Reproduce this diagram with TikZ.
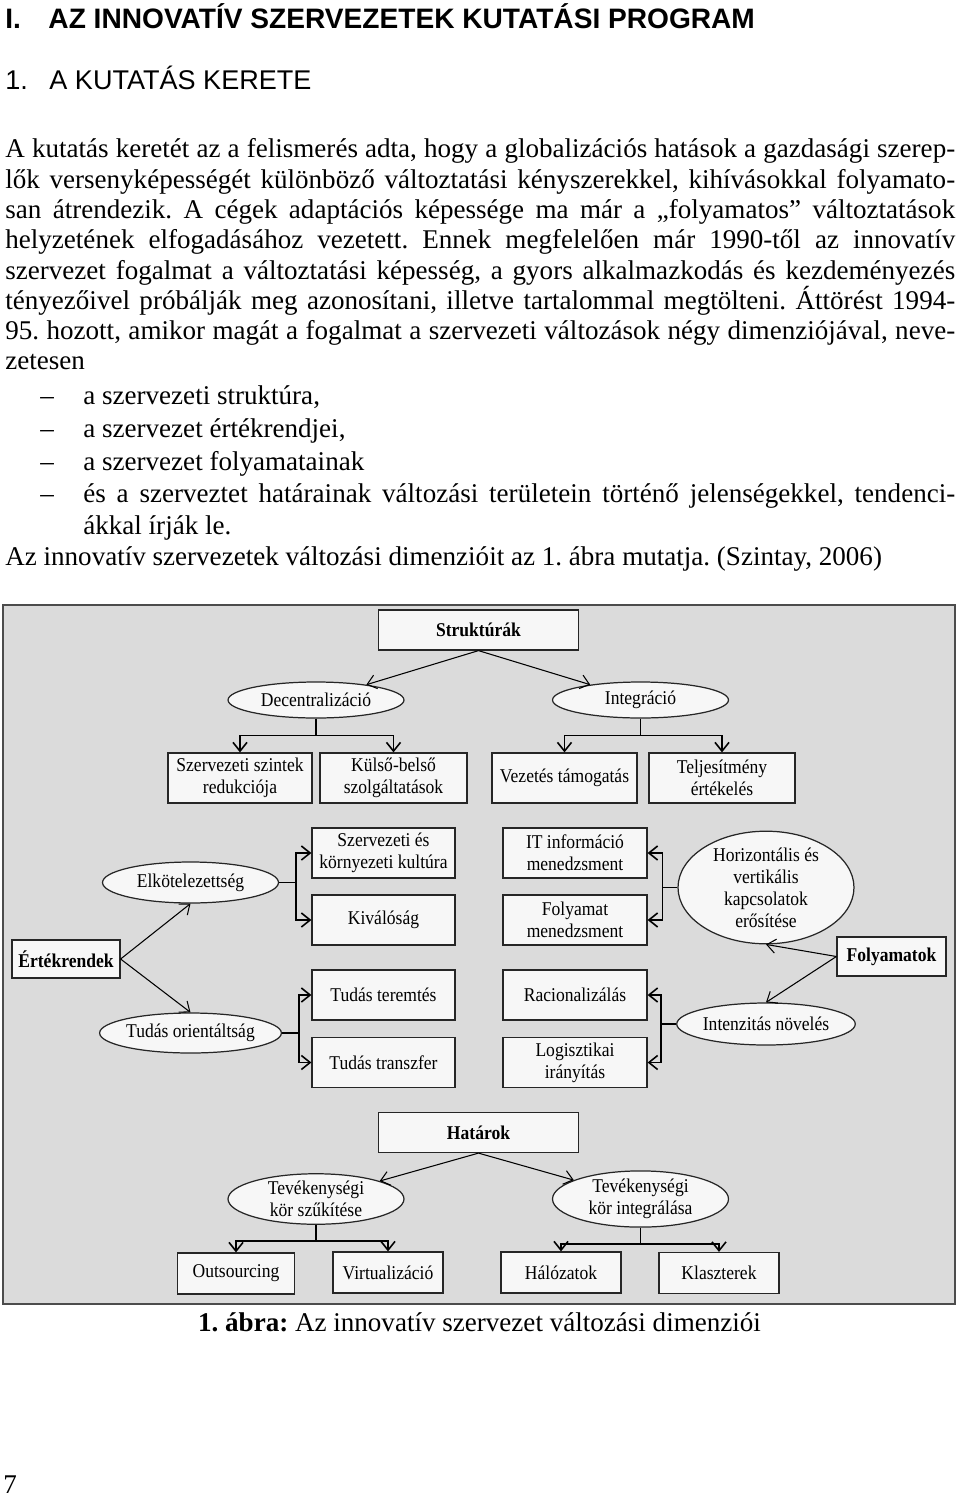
\documentclass[tikz,border=0pt]{standalone}
\usepackage{fontspec}
\setmainfont{Liberation Serif}
\newfontfamily\headfont{Liberation Sans}
\newfontfamily\dgfam[FakeStretch=0.9]{Liberation Serif}
\usepackage{tikz}
\usetikzlibrary{arrows.meta, positioning, shapes.geometric, calc}
\usepackage{xcolor}
\frenchspacing
\newcommand\dgfont{\dgfam\fontsize{11.1}{12.5}\selectfont}
\newcommand\txtfont{\fontsize{15.4}{17.5}\selectfont}
\tikzset{
  frame/.style={draw=black!70, fill=black!14, line width=0.8pt},
  dimbox/.style={rectangle, draw=black!85, fill=black!3, line width=0.7pt,
                 inner sep=0pt, minimum width=4cm, minimum height=0.8cm, font=\dgfont\bfseries},
  itembox/.style={rectangle, draw=black!85, fill=black!3, line width=0.7pt, align=center,
                 inner sep=0pt, minimum width=2.9cm, minimum height=1cm, font=\dgfont},
  oval/.style={ellipse, draw=black!85, fill=black!3, line width=0.7pt, align=center,
                 inner sep=0pt, minimum width=3.52cm, minimum height=0.8cm, font=\dgfont},
  arr/.style={line width=0.6pt, -{Straight Barb[length=5pt, width=8pt]}},
  brk/.style={line width=0.9pt, -{Straight Barb[length=5pt, width=8pt]}},
  txtline/.style={anchor=base west, inner sep=0pt, font=\txtfont},
}
\begin{document}
\begin{tikzpicture}[x=0.02cm, y=-0.02cm]
    \useasboundingbox (0,0) rectangle (960,1497);
    % Headings
    \node[anchor=base west, inner sep=0pt, font=\headfont\fontsize{16}{18}\selectfont\bfseries] (h1) at (5,28.5)
      {I.\hspace{0.55cm}AZ INNOVATÍV SZERVEZETEK KUTATÁSI PROGRAM};
    \node[anchor=base west, inner sep=0pt, font=\headfont\fontsize{15.4}{18}\selectfont] (h2) at (5,90)
      {1.\hspace{0.43cm}A KUTATÁS KERETE};
    % Text
    \node[txtline] (t1) at (5,157) {\makebox[19cm][s]{A kutatás keretét az a felismerés adta, hogy a globalizációs hatások a gazdasági szerep-}};
    \node[txtline] (t2) at (5,188) {\makebox[19cm][s]{lők versenyképességét különböző változtatási kényszerekkel, kihívásokkal folyamato-}};
    \node[txtline] (t3) at (5,218) {\makebox[19cm][s]{san átrendezik. A cégek adaptációs képessége ma már a „folyamatos” változtatások}};
    \node[txtline] (t4) at (5,248) {\makebox[19cm][s]{helyzetének elfogadásához vezetett. Ennek megfelelően már 1990-től az innovatív}};
    \node[txtline] (t5) at (5,279) {\makebox[19cm][s]{szervezet fogalmat a változtatási képesség, a gyors alkalmazkodás és kezdeményezés}};
    \node[txtline] (t6) at (5,309) {\makebox[19cm][s]{tényezőivel próbálják meg azonosítani, illetve tartalommal megtölteni. Áttörést 1994-}};
    \node[txtline] (t7) at (5,339) {\makebox[19cm][s]{95. hozott, amikor magát a fogalmat a szervezeti változások négy dimenziójával, neve-}};
    \node[txtline] (t8) at (5,369) {zetesen};
    \node[txtline] (d1) at (40,404) {–};
    \node[txtline] (i1) at (83,404) {a szervezeti struktúra,};
    \node[txtline] (d2) at (40,437) {–};
    \node[txtline] (i2) at (83,437) {a szervezet értékrendjei,};
    \node[txtline] (d3) at (40,470) {–};
    \node[txtline] (i3) at (83,470) {a szervezet folyamatainak};
    \node[txtline] (d4) at (40,502) {–};
    \node[txtline] (i4) at (83,502) {\makebox[17.44cm][s]{és a szerveztet határainak változási területein történő jelenségekkel, tendenci-}};
    \node[txtline] (i5) at (83,534) {ákkal írják le.};
    \node[txtline] (t9) at (5,565) {Az innovatív szervezetek változási dimenzióit az 1. ábra mutatja. (Szintay, 2006)};
    % Frame
    \draw[frame] (3,605) rectangle (955,1304);
    % Struktúrák
    \node[dimbox] (strukt) at (478.5,630) {Struktúrák};
    \node[oval, minimum height=0.72cm] (decent) at (316,700) {Decentralizáció};
    \node[oval, minimum height=0.72cm] (integr) at (640.5,700) {Integráció};
    \node[itembox, minimum width=2.88cm] (szint) at (240,778) {Szervezeti szintek\\redukciója};
    \node[itembox, minimum width=2.94cm] (kulso) at (393.5,778) {Külső-belső\\szolgáltatások};
    \node[itembox] (vezet) at (564.5,778) {Vezetés támogatás};
    \node[itembox, minimum width=2.92cm] (teljes) at (722,778) {Teljesítmény\\értékelés};
    \draw[arr] (strukt.south) -- (decent);
    \draw[arr] (strukt.south) -- (integr);
    \draw[brk] (decent.south) -- ++(0,17) -| (szint.north);
    \draw[brk] (decent.south) -- ++(0,17) -| (kulso.north);
    \draw[brk] (integr.south) -- ++(0,17) -| (vezet.north);
    \draw[brk] (integr.south) -- ++(0,17) -| (teljes.north);
    % Értékrendek
    \node[dimbox, minimum width=2.16cm, minimum height=0.76cm] (ertek) at (66,959) {Értékrendek};
    \node[oval, minimum height=0.82cm] (elkot) at (190.5,882.5) {Elkötelezettség};
    \node[oval] (tudor) at (190.5,1033) {Tudás orientáltság};
    \node[itembox, minimum width=2.86cm] (kult) at (383.5,853) {Szervezeti és\\környezeti kultúra};
    \node[itembox, minimum width=2.86cm] (kival) at (383.5,920) {Kiválóság};
    \node[itembox, minimum width=2.86cm] (teremt) at (383.5,995) {Tudás teremtés};
    \node[itembox, minimum width=2.86cm] (transz) at (383.5,1062.5) {Tudás transzfer};
    \draw[arr] (ertek.east) -- (elkot.south);
    \draw[arr] (ertek.east) -- (tudor.north);
    \draw[brk] (elkot.east) -- ++(17,0) |- (kult.west);
    \draw[brk] (elkot.east) -- ++(17,0) |- (kival.west);
    \draw[brk] (tudor.east) -- ++(17,0) |- (teremt.west);
    \draw[brk] (tudor.east) -- ++(17,0) |- (transz.west);
    % Folyamatok
    \node[dimbox, minimum width=2.18cm, minimum height=0.78cm] (folyam) at (891.5,956.5) {Folyamatok};
    \node[oval, minimum height=1.98cm] (horiz) at (766,887.5) {Horizontális és\\vertikális\\kapcsolatok\\erősítése};
    \node[oval, minimum height=0.84cm] (intenz) at (766,1024) {Intenzitás növelés};
    \node[itembox, minimum width=2.88cm] (itinfo) at (575,853) {IT információ\\menedzsment};
    \node[itembox, minimum width=2.88cm] (folymen) at (575,920) {Folyamat\\menedzsment};
    \node[itembox, minimum width=2.88cm] (racio) at (575,995) {Racionalizálás};
    \node[itembox, minimum width=2.88cm] (logiszt) at (575,1062.5) {Logisztikai\\irányítás};
    \draw[arr] (folyam.west) -- (horiz.south);
    \draw[arr] (folyam.west) -- (intenz.north);
    \draw[brk] (horiz.west) -- ++(-15,0) |- (itinfo.east);
    \draw[brk] (horiz.west) -- ++(-15,0) |- (folymen.east);
    \draw[brk] (intenz.west) -- ++(-15,0) |- (racio.east);
    \draw[brk] (intenz.west) -- ++(-15,0) |- (logiszt.east);
    % Határok
    \node[dimbox] (hatar) at (478.5,1132.5) {Határok};
    \node[oval] (tszuk) at (316,1199) {Tevékenységi\\kör szűkítése};
    \node[oval] (tint) at (640.5,1199) {Tevékenységi\\kör integrálása};
    \node[itembox, minimum width=2.34cm, minimum height=0.82cm] (outs) at (236,1273.5) {Outsourcing};
    \node[itembox, minimum width=2.2cm, minimum height=0.82cm] (virt) at (388,1272.5) {Virtualizáció};
    \node[itembox, minimum width=2.4cm, minimum height=0.82cm] (halo) at (561,1272.5) {Hálózatok};
    \node[itembox, minimum width=2.4cm, minimum height=0.82cm] (klaszt) at (719,1273) {Klaszterek};
    \draw[arr] (hatar.south) -- (tszuk);
    \draw[arr] (hatar.south) -- (tint);
    \draw[brk] (tszuk.south) -- ++(0,16) -| (outs.north);
    \draw[brk] (tszuk.south) -- ++(0,16) -| (virt.north);
    \draw[brk] (tint.south) -- ++(0,16) -| (halo.north);
    \draw[brk] (tint.south) -- ++(0,16) -| (klaszt.north);
    % Caption and page number
    \node[anchor=base, inner sep=0pt, font=\txtfont] (capt) at (479.5,1331)
      {\textbf{1. ábra:} Az innovatív szervezet változási dimenziói};
    \node[txtline] (pnum) at (3,1493) {7};
\end{tikzpicture}
\end{document}
